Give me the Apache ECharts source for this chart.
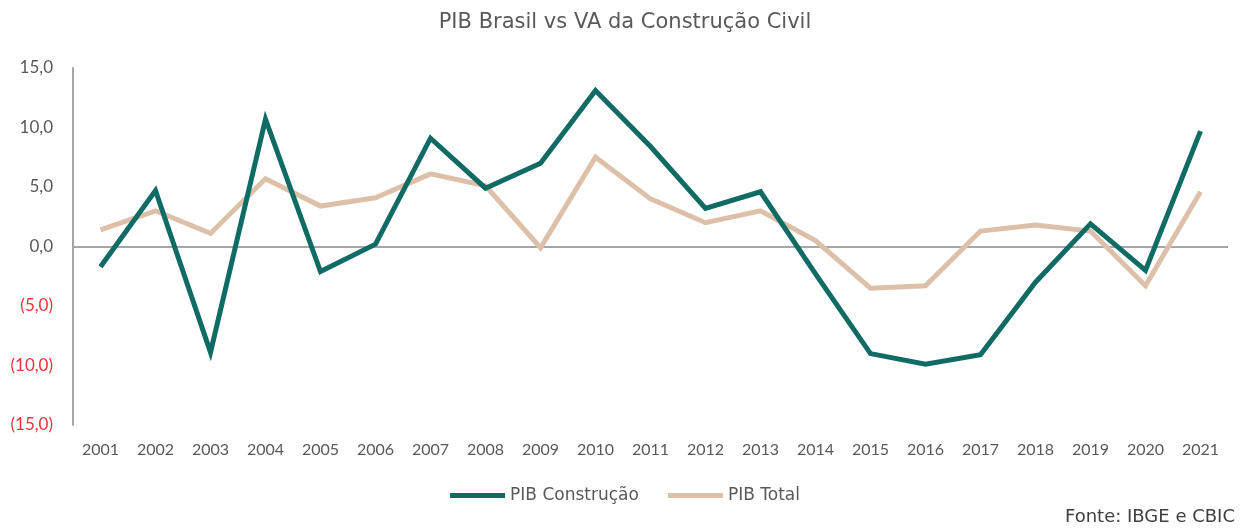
<!DOCTYPE html>
<html>
<head>
<meta charset="utf-8">
<script src="https://cdn.jsdelivr.net/npm/echarts@6/dist/echarts.min.js"></script>
<style>html,body{margin:0;padding:0;background:#fff}#c{width:1250px;height:530px}</style>
</head>
<body>
<div id="c"></div>
<script>
const years = ['2001','2002','2003','2004','2005','2006','2007','2008','2009','2010','2011','2012','2013','2014','2015','2016','2017','2018','2019','2020','2021'];
const pibConstrucao = [-1.7, 4.7, -8.9, 10.7, -2.1, 0.2, 9.1, 4.9, 7.0, 13.1, 8.4, 3.2, 4.6, -2.3, -9.0, -9.9, -9.1, -3.0, 1.9, -2.0, 9.7];
const pibTotal = [1.4, 3.0, 1.1, 5.7, 3.4, 4.1, 6.1, 5.1, -0.1, 7.5, 4.0, 2.0, 3.0, 0.5, -3.5, -3.3, 1.3, 1.8, 1.3, -3.3, 4.6];
const seriesNames = ['PIB Construção', 'PIB Total'];
const titleText = 'PIB Brasil vs VA da Construção Civil';
const sourceText = 'Fonte: IBGE e CBIC';

const FONT = 'Lato, "DejaVu Sans", sans-serif';
const WIDE = '"DejaVu Sans", sans-serif';
const chart = echarts.init(document.getElementById('c'), null, {renderer: 'canvas'});
function fmt(v) {
  const s = Math.abs(v).toFixed(1).replace('.', ',');
  return v < 0 ? '{neg|(' + s + ')}' : '{pos|' + s + '}';
}
chart.setOption({
  animation: false,
  title: {
    text: titleText, left: 'center', top: 7,
    textStyle: {fontFamily: WIDE, fontSize: 21, fontWeight: 'normal', color: '#595959'}
  },
  legend: {
    data: seriesNames, bottom: 21, left: 'center',
    icon: 'rect', itemWidth: 55, itemHeight: 5, itemGap: 29,
    textStyle: {fontFamily: WIDE, fontSize: 17, color: '#595959'}
  },
  graphic: [{
    type: 'text', right: 15, bottom: 4,
    style: {text: sourceText, font: '18px ' + WIDE, fill: '#404040'}
  }],
  grid: {left: 73, right: 22, top: 68, bottom: 105, containLabel: false},
  xAxis: {
    type: 'category', data: years, boundaryGap: true,
    axisLine: {show: false}, axisTick: {show: false},
    axisLabel: {fontFamily: FONT, fontSize: 16, color: '#595959', margin: 17, interval: 0}
  },
  yAxis: {
    type: 'value', min: -15, max: 15, interval: 5,
    axisLine: {show: true, lineStyle: {color: '#a6a6a6', width: 2}},
    axisTick: {show: false}, splitLine: {show: false},
    axisLabel: {
      margin: 20, formatter: fmt,
      rich: {
        pos: {fontFamily: FONT, fontSize: 17, color: '#595959'},
        neg: {fontFamily: FONT, fontSize: 17, color: '#e8323c'}
      }
    }
  },
  series: [
    {
      name: seriesNames[0], type: 'line', data: pibConstrucao, symbol: 'none', z: 3,
      lineStyle: {color: '#0f6b63', width: 5, join: 'miter'}, itemStyle: {color: '#0f6b63'},
      markLine: {
        silent: true, symbol: 'none', label: {show: false},
        lineStyle: {color: '#a6a6a6', width: 2, type: 'solid'},
        data: [{yAxis: 0}], z: 1
      }
    },
    {
      name: seriesNames[1], type: 'line', data: pibTotal, symbol: 'none', z: 2,
      lineStyle: {color: '#dcc0a9', width: 5, join: 'miter'}, itemStyle: {color: '#dcc0a9'}
    }
  ]
});
</script>
</body>
</html>
